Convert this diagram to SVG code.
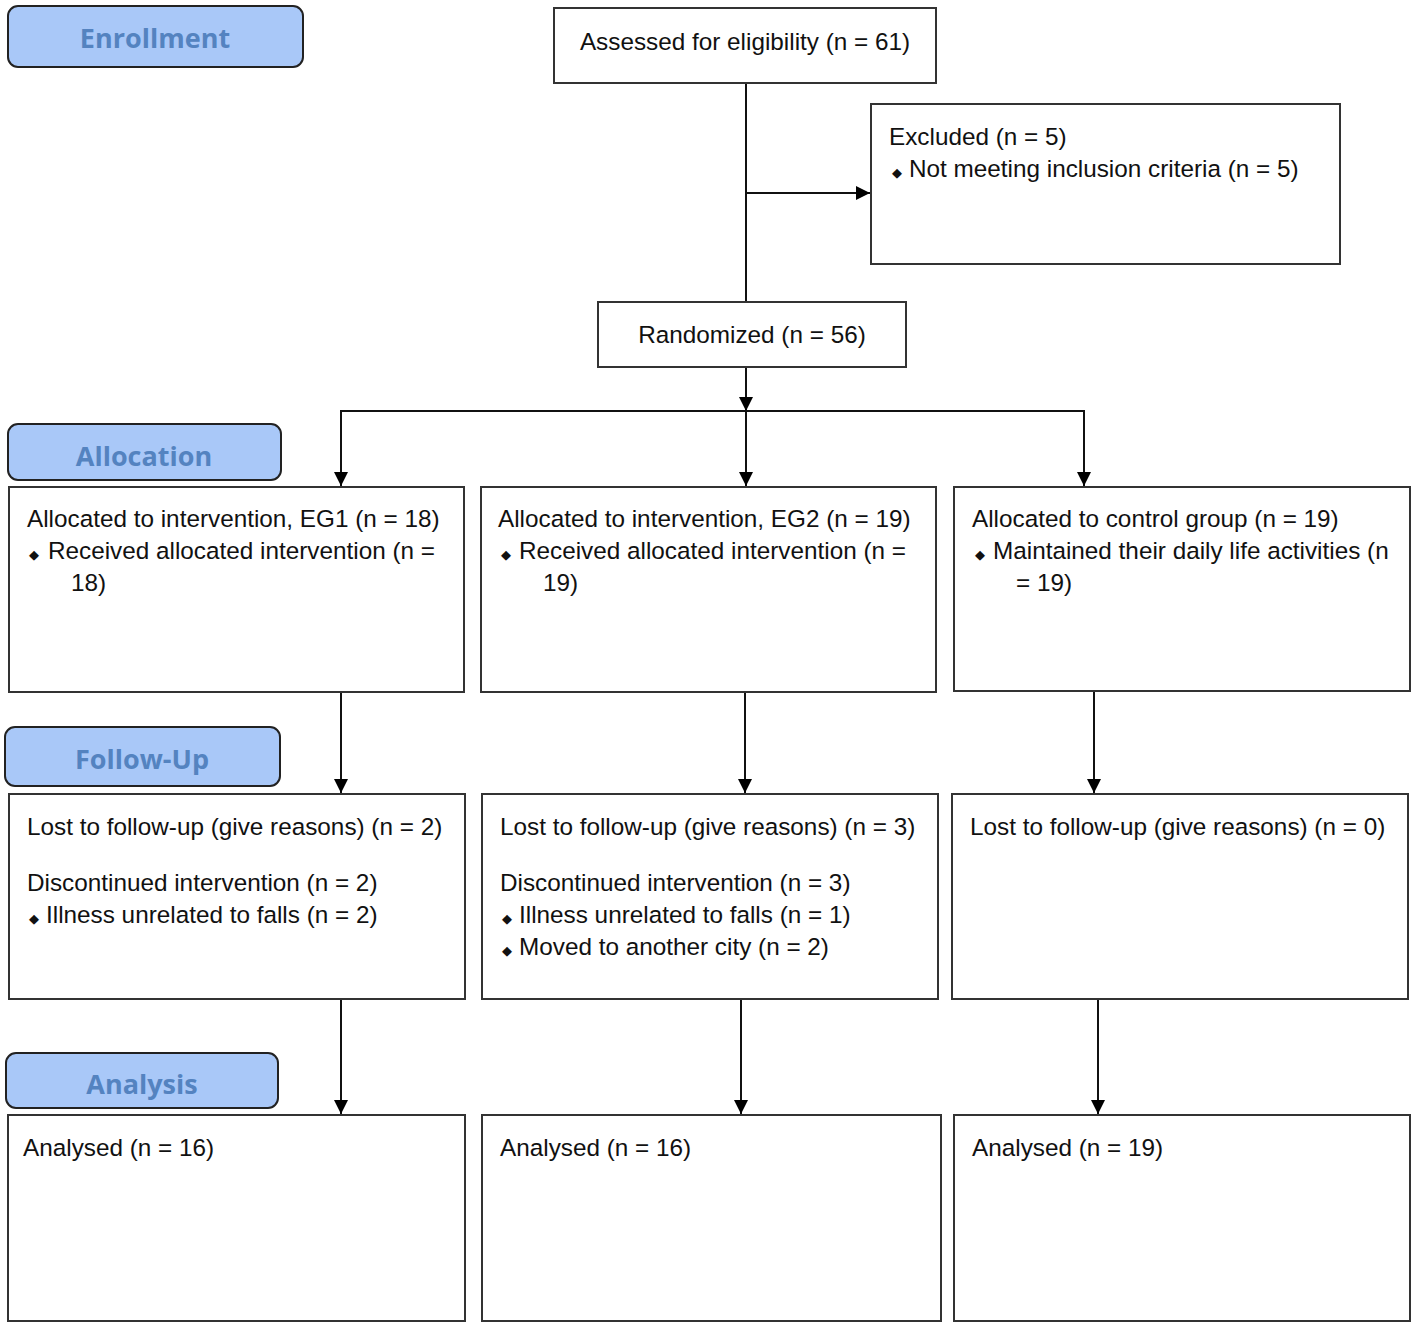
<svg xmlns="http://www.w3.org/2000/svg" width="1418" height="1326" viewBox="0 0 1418 1326">
<defs>
<marker id="ah" markerWidth="14" markerHeight="14" refX="14" refY="7" orient="auto" markerUnits="userSpaceOnUse">
<path d="M0,0 L14,7 L0,14 Z" fill="#000"/>
</marker>
<style>
.box{fill:#fff;stroke:#333;stroke-width:2}
.lab{fill:#a9c8f8;stroke:#222;stroke-width:2}
.lt{font-family:"Open Sans","Liberation Sans",sans-serif;font-weight:700;font-size:27px;fill:#5483c0;text-anchor:middle}
.t{font-family:"Liberation Sans",Arial,sans-serif;font-size:24.3px;fill:#111}
.c{text-anchor:middle}
.b{font-size:13px}
.con{stroke:#111;stroke-width:2;fill:none}
</style>
</defs>
<rect width="1418" height="1326" fill="#fff"/>

<g id="label-enrollment"><rect class="lab" x="8" y="6" width="295" height="61" rx="10"/><text class="lt" x="155" y="48">Enrollment</text></g>
<g id="label-allocation"><rect class="lab" x="8" y="424" width="273" height="56" rx="10"/><text class="lt" x="144" y="466">Allocation</text></g>
<g id="label-followup"><rect class="lab" x="5" y="727" width="275" height="59" rx="10"/><text class="lt" x="142" y="769">Follow-Up</text></g>
<g id="label-analysis"><rect class="lab" x="6" y="1053" width="272" height="55" rx="10"/><text class="lt" x="142" y="1094">Analysis</text></g>

<g id="connectors">
<line class="con" x1="746" y1="83" x2="746" y2="302"/>
<line class="con" x1="746" y1="193" x2="870" y2="193" marker-end="url(#ah)"/>
<line class="con" x1="746" y1="367" x2="746" y2="411" marker-end="url(#ah)"/>
<line class="con" x1="341" y1="411" x2="1084" y2="411"/>
<line class="con" x1="341" y1="410" x2="341" y2="486" marker-end="url(#ah)"/>
<line class="con" x1="746" y1="411" x2="746" y2="486" marker-end="url(#ah)"/>
<line class="con" x1="1084" y1="410" x2="1084" y2="486" marker-end="url(#ah)"/>
<line class="con" x1="341" y1="692" x2="341" y2="793" marker-end="url(#ah)"/>
<line class="con" x1="745" y1="692" x2="745" y2="793" marker-end="url(#ah)"/>
<line class="con" x1="1094" y1="691" x2="1094" y2="793" marker-end="url(#ah)"/>
<line class="con" x1="341" y1="999" x2="341" y2="1114" marker-end="url(#ah)"/>
<line class="con" x1="741" y1="999" x2="741" y2="1114" marker-end="url(#ah)"/>
<line class="con" x1="1098" y1="999" x2="1098" y2="1114" marker-end="url(#ah)"/>
</g>

<g id="assessed"><rect class="box" x="554" y="8" width="382" height="75"/><text class="t c" x="745" y="50">Assessed for eligibility (n = 61)</text></g>
<g id="excluded"><rect class="box" x="871" y="104" width="469" height="160"/>
<text class="t" x="889" y="145">Excluded (n = 5)</text>
<text class="t" x="892" y="177"><tspan class="b">◆</tspan><tspan x="909">Not meeting inclusion criteria (n = 5)</tspan></text></g>
<g id="randomized"><rect class="box" x="598" y="302" width="308" height="65"/><text class="t c" x="752" y="343">Randomized (n = 56)</text></g>

<g id="alloc-eg1"><rect class="box" x="9" y="487" width="455" height="205"/>
<text class="t" x="27" y="527">Allocated to intervention, EG1 (n = 18)</text>
<text class="t" x="29" y="559"><tspan class="b">◆</tspan><tspan x="48">Received allocated intervention (n =</tspan></text>
<text class="t" x="71" y="591">18)</text></g>
<g id="alloc-eg2"><rect class="box" x="481" y="487" width="455" height="205"/>
<text class="t" x="498" y="527">Allocated to intervention, EG2 (n = 19)</text>
<text class="t" x="501" y="559"><tspan class="b">◆</tspan><tspan x="519">Received allocated intervention (n =</tspan></text>
<text class="t" x="543" y="591">19)</text></g>
<g id="alloc-control"><rect class="box" x="954" y="487" width="456" height="204"/>
<text class="t" x="972" y="527">Allocated to control group (n = 19)</text>
<text class="t" x="975" y="559"><tspan class="b">◆</tspan><tspan x="993">Maintained their daily life activities (n</tspan></text>
<text class="t" x="1016" y="591">= 19)</text></g>

<g id="follow-eg1"><rect class="box" x="9" y="794" width="456" height="205"/>
<text class="t" x="27" y="835">Lost to follow-up (give reasons) (n = 2)</text>
<text class="t" x="27" y="891">Discontinued intervention (n = 2)</text>
<text class="t" x="29" y="923"><tspan class="b">◆</tspan><tspan x="46">Illness unrelated to falls (n = 2)</tspan></text></g>
<g id="follow-eg2"><rect class="box" x="482" y="794" width="456" height="205"/>
<text class="t" x="500" y="835">Lost to follow-up (give reasons) (n = 3)</text>
<text class="t" x="500" y="891">Discontinued intervention (n = 3)</text>
<text class="t" x="502" y="923"><tspan class="b">◆</tspan><tspan x="519">Illness unrelated to falls (n = 1)</tspan></text>
<text class="t" x="502" y="955"><tspan class="b">◆</tspan><tspan x="519">Moved to another city (n = 2)</tspan></text></g>
<g id="follow-control"><rect class="box" x="952" y="794" width="456" height="205"/>
<text class="t" x="970" y="835">Lost to follow-up (give reasons) (n = 0)</text></g>

<g id="analysis-eg1"><rect class="box" x="8" y="1115" width="457" height="206"/><text class="t" x="23" y="1156">Analysed (n = 16)</text></g>
<g id="analysis-eg2"><rect class="box" x="482" y="1115" width="459" height="206"/><text class="t" x="500" y="1156">Analysed (n = 16)</text></g>
<g id="analysis-control"><rect class="box" x="954" y="1115" width="456" height="206"/><text class="t" x="972" y="1156">Analysed (n = 19)</text></g>
</svg>
